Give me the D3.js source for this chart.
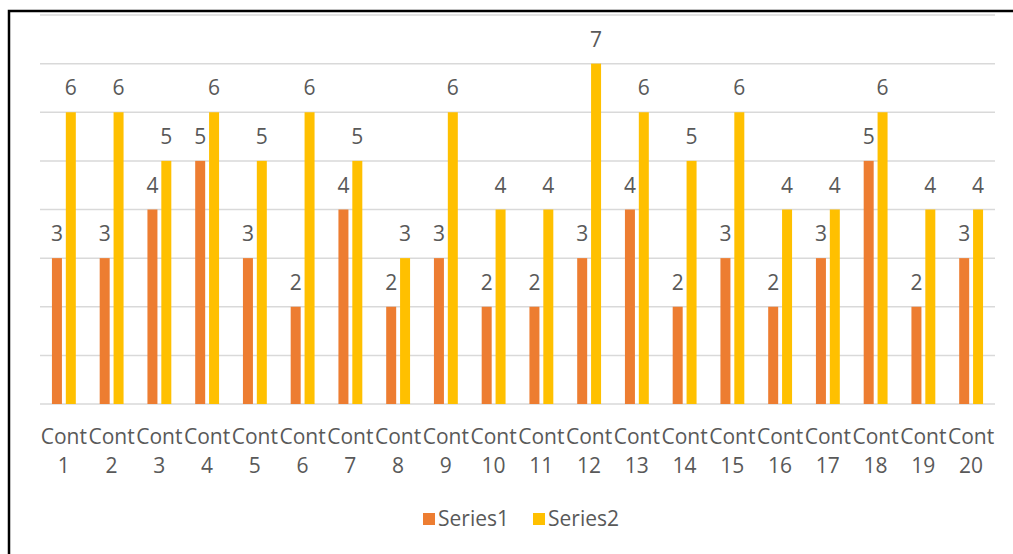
<!DOCTYPE html>
<meta charset="utf-8">
<style>
  body { margin: 0; background: #fff; }
  text { font-family: "Open Sans", sans-serif; fill: #595959; }
  .grid line { stroke: #d9d9d9; stroke-width: 1.5px; }
</style>
<body>
<div id="chart"></div>
<script src="https://d3js.org/d3.v7.min.js"></script>
<script>
  // data
  var categories = d3.range(1, 21).map(function (i) { return "Cont " + i; });
  var seriesNames = ["Series1", "Series2"];
  var series1 = [3, 3, 4, 5, 3, 2, 4, 2, 3, 2, 2, 3, 4, 2, 3, 2, 3, 5, 2, 3];
  var series2 = [6, 6, 5, 6, 5, 6, 5, 3, 6, 4, 4, 7, 6, 5, 6, 4, 4, 6, 4, 4];
  var yTicks = [0, 1, 2, 3, 4, 5, 6, 7, 8];
  var colors = ["#ED7D31", "#FFC000"];

  var width = 1013, height = 554;

  var svg = d3.select("#chart").append("svg")
    .attr("width", width)
    .attr("height", height);

  // frame
  svg.append("rect")
    .attr("x", 9).attr("y", 11)
    .attr("width", width).attr("height", height)
    .attr("fill", "none")
    .attr("stroke", "#000")
    .attr("stroke-width", 2.5);

  var x0 = d3.scaleBand().domain(categories).range([40, 995])
    .paddingInner(0.5).paddingOuter(0.25);
  var x1 = d3.scaleBand().domain(seriesNames).range([0, x0.bandwidth()])
    .paddingInner(0.28);
  var y = d3.scaleLinear().domain([0, 8]).range([404, 15]);

  // gridlines
  svg.append("g").attr("class", "grid")
    .selectAll("line").data(yTicks).join("line")
    .attr("x1", 40).attr("x2", 995)
    .attr("y1", function (d) { return y(d); })
    .attr("y2", function (d) { return y(d); });

  var rows = categories.map(function (c, i) {
    return { cat: c, vals: [series1[i], series2[i]] };
  });

  var groups = svg.append("g").selectAll("g").data(rows).join("g")
    .attr("transform", function (d) { return "translate(" + x0(d.cat) + ",0)"; });

  var cells = function (d) {
    return d.vals.map(function (v, j) { return { name: seriesNames[j], v: v, j: j }; });
  };

  groups.selectAll("rect").data(cells).join("rect")
    .attr("x", function (d) { return x1(d.name); })
    .attr("width", x1.bandwidth())
    .attr("y", function (d) { return y(d.v); })
    .attr("height", function (d) { return y(0) - y(d.v); })
    .attr("fill", function (d) { return colors[d.j]; });

  groups.selectAll("text.lbl").data(cells).join("text")
    .attr("class", "lbl")
    .attr("x", function (d) { return x1(d.name) + x1.bandwidth() / 2; })
    .attr("y", function (d) { return y(d.v) - 17; })
    .attr("text-anchor", "middle")
    .style("font-size", "21px")
    .text(function (d) { return d.v; });

  // category labels, wrapped on two lines
  var cl = svg.append("g").selectAll("text").data(categories).join("text")
    .attr("text-anchor", "middle")
    .style("font-size", "21px");
  cl.append("tspan")
    .attr("x", function (d) { return x0(d) + x0.bandwidth() / 2; })
    .attr("y", 444)
    .text(function (d) { return d.split(" ")[0]; });
  cl.append("tspan")
    .attr("x", function (d) { return x0(d) + x0.bandwidth() / 2; })
    .attr("y", 473)
    .text(function (d) { return d.split(" ")[1]; });

  // legend
  var legendX = [423, 533];
  var lg = svg.append("g").selectAll("g").data(seriesNames).join("g")
    .attr("transform", function (d, i) { return "translate(" + legendX[i] + ",513)"; });
  lg.append("rect").attr("width", 12).attr("height", 12)
    .attr("fill", function (d, i) { return colors[i]; });
  lg.append("text").attr("x", 15).attr("y", 12.5)
    .style("font-size", "21px")
    .text(function (d) { return d; });
</script>
</body>
